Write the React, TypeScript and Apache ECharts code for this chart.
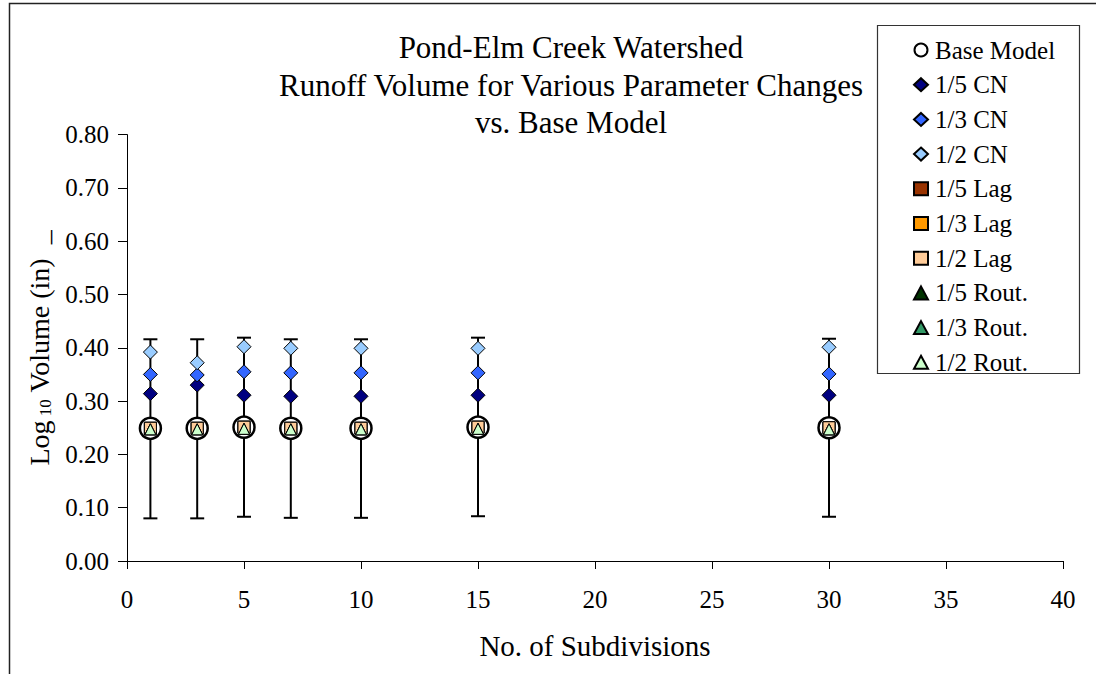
import React, { useEffect, useRef } from "react";
import * as echarts from "echarts";

const subdivisions = [1, 3, 5, 7, 10, 15, 30];
const baseModel = [0.249, 0.249, 0.251, 0.249, 0.249, 0.251, 0.25];
const cnFifth = [0.314, 0.33, 0.311, 0.309, 0.309, 0.311, 0.311];
const cnThird = [0.35, 0.349, 0.355, 0.353, 0.353, 0.353, 0.351];
const cnHalf = [0.392, 0.372, 0.402, 0.399, 0.399, 0.399, 0.401];
const lagFifth = [0.249, 0.249, 0.251, 0.249, 0.249, 0.251, 0.25];
const lagThird = [0.249, 0.249, 0.251, 0.249, 0.249, 0.251, 0.25];
const lagHalf = [0.249, 0.249, 0.251, 0.249, 0.249, 0.251, 0.25];
const routFifth = [0.247, 0.247, 0.248, 0.247, 0.247, 0.248, 0.247];
const routThird = [0.247, 0.247, 0.248, 0.247, 0.247, 0.248, 0.247];
const routHalf = [0.247, 0.247, 0.248, 0.247, 0.247, 0.248, 0.247];
const errLow = [0.08, 0.08, 0.083, 0.081, 0.081, 0.084, 0.083];
const errHigh = [0.416, 0.416, 0.419, 0.416, 0.416, 0.419, 0.417];

const FONT = "'Liberation Serif', 'Times New Roman', serif";

const pts = (vals: number[]) => subdivisions.map((x, i) => [x, vals[i]]);

export default function App() {
  const ref = useRef<HTMLDivElement>(null);
  useEffect(() => {
    if (!ref.current) return;
    const chart = echarts.init(ref.current, undefined, { renderer: "svg" });
    const mk = (
      name: string,
      vals: number[],
      symbol: string,
      size: number,
      color: string
    ) => ({
      name,
      type: "scatter",
      data: pts(vals),
      symbol,
      symbolSize: size,
      itemStyle: { color, borderColor: "#000", borderWidth: 1, opacity: 1 },
      z: 3,
    });
    const option: any = {
      animation: false,
      backgroundColor: "#fff",
      textStyle: { fontFamily: FONT },
      title: {
        text: "Pond-Elm Creek Watershed\nRunoff Volume for Various Parameter Changes\nvs. Base Model",
        left: 566,
        top: 24,
        textAlign: "center",
        textStyle: {
          fontFamily: FONT,
          fontSize: 31,
          fontWeight: "normal",
          color: "#000",
          lineHeight: 37.5,
        },
      },
      grid: { left: 127, right: 33, top: 134.6, bottom: 113, containLabel: false },
      xAxis: {
        type: "value",
        min: 0,
        max: 40,
        interval: 5,
        name: "No. of Subdivisions",
        nameLocation: "middle",
        nameGap: 70,
        nameTextStyle: { fontFamily: FONT, fontSize: 29, color: "#000" },
        axisLine: { lineStyle: { color: "#000", width: 1 } },
        axisTick: { inside: false, length: 8, lineStyle: { color: "#000" } },
        axisLabel: { fontFamily: FONT, fontSize: 25, color: "#000", margin: 26 },
        splitLine: { show: false },
      },
      yAxis: {
        type: "value",
        min: 0,
        max: 0.8,
        interval: 0.1,
        name: "{a|Log}{sub| 10}{a| Volume (in)  _}",
        nameLocation: "middle",
        nameGap: 73,
        nameRotate: 90,
        nameTextStyle: {
          fontFamily: FONT,
          color: "#000",
          rich: {
            a: { fontFamily: FONT, fontSize: 28, color: "#000", lineHeight: 30 },
            sub: {
              fontFamily: FONT,
              fontSize: 17,
              color: "#000",
              lineHeight: 30,
              verticalAlign: "bottom",
            },
          },
        },
        axisLine: { show: true, lineStyle: { color: "#000", width: 1 } },
        axisTick: { show: true, inside: false, length: 9, lineStyle: { color: "#000" } },
        axisLabel: {
          fontFamily: FONT,
          fontSize: 25,
          color: "#000",
          margin: 18,
          formatter: (v: number) => v.toFixed(2),
        },
        splitLine: { show: false },
      },
      legend: {
        orient: "vertical",
        left: 908,
        top: 32.5,
        itemWidth: 14,
        itemHeight: 13,
        itemGap: 9.7,
        textStyle: { fontFamily: FONT, fontSize: 25, color: "#000", lineHeight: 25, padding: [0, 0, 0, 2] },
        data: [
          "Base Model",
          "1/5 CN",
          "1/3 CN",
          "1/2 CN",
          "1/5 Lag",
          "1/3 Lag",
          "1/2 Lag",
          "1/5 Rout.",
          "1/3 Rout.",
          "1/2 Rout.",
        ],
      },
      graphic: [
        {
          type: "rect",
          shape: { x: 9.5, y: 3.5, width: 1200, height: 1000 },
          style: { fill: "none", stroke: "#222", lineWidth: 1.5 },
          silent: true,
        },
        {
          type: "rect",
          shape: { x: 877.5, y: 25.5, width: 202, height: 348 },
          style: { fill: "#fff", stroke: "#333", lineWidth: 1.2 },
          silent: true,
          z: -1,
        },
      ],
      series: [
        {
          name: "errbars",
          type: "custom",
          data: subdivisions.map((x, i) => [x, errLow[i], errHigh[i]]),
          encode: { x: 0, y: [1, 2] },
          z: 1,
          silent: true,
          renderItem: (params: any, api: any) => {
            const x = api.value(0);
            const lo = api.coord([x, api.value(1)]);
            const hi = api.coord([x, api.value(2)]);
            const hw = 7;
            const st = { stroke: "#000", lineWidth: 2 };
            return {
              type: "group",
              children: [
                { type: "line", shape: { x1: lo[0], y1: lo[1], x2: hi[0], y2: hi[1] }, style: st },
                { type: "line", shape: { x1: lo[0] - hw, y1: lo[1], x2: lo[0] + hw, y2: lo[1] }, style: st },
                { type: "line", shape: { x1: hi[0] - hw, y1: hi[1], x2: hi[0] + hw, y2: hi[1] }, style: st },
              ],
            };
          },
        },
        {
          name: "Base Model",
          type: "scatter",
          data: pts(baseModel),
          symbol: "circle",
          symbolSize: 21,
          itemStyle: { color: "#fff", borderColor: "#000", borderWidth: 2.5, opacity: 1 },
          z: 2,
        },
        mk("1/5 CN", cnFifth, "diamond", 14, "#000080"),
        mk("1/3 CN", cnThird, "diamond", 14, "#3366FF"),
        mk("1/2 CN", cnHalf, "diamond", 14, "#99CCFF"),
        mk("1/5 Lag", lagFifth, "rect", 12, "#993300"),
        mk("1/3 Lag", lagThird, "rect", 12, "#FF9900"),
        mk("1/2 Lag", lagHalf, "rect", 12, "#FFCC99"),
        mk("1/5 Rout.", routFifth, "triangle", 11, "#003300"),
        mk("1/3 Rout.", routThird, "triangle", 11, "#339966"),
        mk("1/2 Rout.", routHalf, "triangle", 11, "#CCFFCC"),
      ],
    };
    chart.setOption(option);
    return () => chart.dispose();
  }, []);
  return (
    <div
      ref={ref}
      style={{ position: "fixed", left: 0, top: 0, width: 1096, height: 674 }}
    />
  );
}
